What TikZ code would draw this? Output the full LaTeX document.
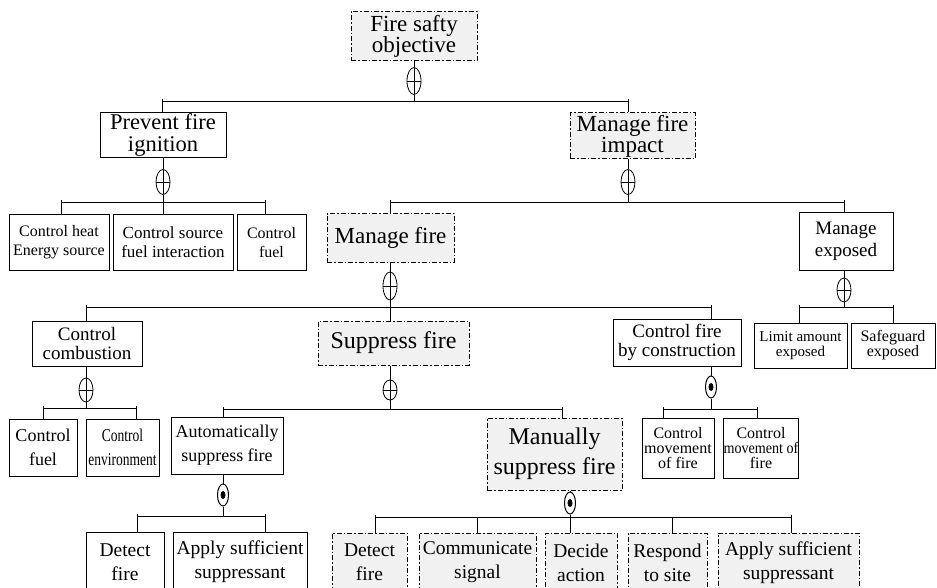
\documentclass[tikz,border=0pt]{standalone}
\usepackage{fontspec}
\setmainfont{Liberation Serif}
\usetikzlibrary{shapes.geometric}
\definecolor{boxgray}{HTML}{F1F1F1}
\newcommand\myfs[2]{\fontsize{#1}{#2}\selectfont}
\begin{document}
\begin{tikzpicture}[x=1pt,y=-1pt,
  every node/.style={inner sep=0pt, align=center},
  line/.style={line width=1pt},
  sbox/.style={draw, line width=1pt, fill=white},
  dbox/.style={draw, line width=1pt, fill=boxgray, dash pattern=on 5pt off 2pt on 1.5pt off 2pt},
  orsym/.style={ellipse, draw, line width=0.8pt, minimum width=14pt, minimum height=#1,
    path picture={\draw[line width=0.8pt] (path picture bounding box.north) -- (path picture bounding box.south)
      (path picture bounding box.west) -- (path picture bounding box.east);}},
  orsym/.default=25pt,
  xorsym/.style={ellipse, draw, line width=1pt, minimum width=11pt, minimum height=22pt,
    path picture={\fill (path picture bounding box.center) ellipse (2.5pt and 4pt);}}
]
\useasboundingbox (0,0) rectangle (937,588);
\clip (0,0) rectangle (937,588);
\fill[white] (0,0) rectangle (937,588);

% ---------------- level 0
\node[dbox, minimum width=126pt, minimum height=49pt, font=\myfs{23}{21}] (top) at (414,36.5) {Fire safty\\objective};
\node[orsym=27pt] (s0) at (414,81) {};
\node[sbox, minimum width=126pt, minimum height=45pt, font=\myfs{22.5}{22}] (prev) at (163,135.5) {Prevent fire\\ignition};
\node[dbox, minimum width=125pt, minimum height=46pt, font=\myfs{23}{21}] (mfi) at (632.5,136) {Manage fire\\impact};
\coordinate (b0L) at (162,102); \coordinate (b0R) at (628,102);
\draw[line] (top.south) -- (s0.north);
\draw[line] (s0.south) -- (s0.south |- b0L);
\draw[line] (b0L) -- (b0R);
\draw[line] ([yshift=2.5pt]b0L) -- (b0L |- prev.north);
\draw[line] ([yshift=2.5pt]b0R) -- (b0R |- mfi.north);

% ---------------- prevent fire ignition
\node[orsym] (s1) at (163,182) {};
\draw[line] (prev.south) -- (s1.north);
\coordinate (b1L) at (61,203); \coordinate (b1M) at (163,203); \coordinate (b1R) at (265,203);
\draw[line] (s1.south) -- (b1M);
\draw[line] (b1L) -- (b1R);
\node[sbox, minimum width=100pt, minimum height=55pt, font=\myfs{16}{19}] (c1) at (59,242.5) {Control heat\\Energy source};
\node[sbox, minimum width=120pt, minimum height=55pt, font=\myfs{17}{19}] (c2) at (173,242.5) {Control source\\fuel interaction};
\node[sbox, minimum width=69pt, minimum height=55pt, font=\myfs{16}{19}] (c3) at (271.5,242.5) {Control\\fuel};
\draw[line] ([yshift=2.5pt]b1L) -- (b1L |- c1.north);
\draw[line] (b1M) -- (b1M |- c2.north);
\draw[line] ([yshift=2.5pt]b1R) -- (b1R |- c3.north);

% ---------------- manage fire impact
\node[orsym] (s2) at (628,182) {};
\draw[line] (mfi.south -| s2.north) -- (s2.north);
\coordinate (b2L) at (390,203); \coordinate (b2R) at (844,203);
\draw[line] (s2.south) -- (s2.south |- b2L);
\draw[line] (b2L) -- (b2R);
\node[dbox, minimum width=127pt, minimum height=48pt, font=\myfs{23}{20}] (mf) at (390.5,238) {Manage fire};
\node[sbox, minimum width=94pt, minimum height=57pt, font=\myfs{19}{22}] (me) at (846,241.5) {Manage\\exposed};
\draw[line] ([yshift=2.5pt]b2L) -- (b2L |- mf.north);
\draw[line] ([yshift=2.5pt]b2R) -- (b2R |- me.north);

% ---------------- manage exposed
\node[orsym=24pt] (s4) at (844,290) {};
\draw[line] (me.south -| s4.north) -- (s4.north);
\coordinate (b4L) at (799,307); \coordinate (b4R) at (893,307);
\draw[line] (s4.south) -- (s4.south |- b4L);
\draw[line] (b4L) -- (b4R);
\node[sbox, minimum width=93pt, minimum height=45pt, font=\myfs{15}{15}] (la) at (800.5,345.5) {Limit amount\\exposed};
\node[sbox, minimum width=84pt, minimum height=45pt, font=\myfs{16}{15}] (se) at (893,345.5) {Safeguard\\exposed};
\draw[line] ([yshift=2.5pt]b4L) -- (b4L |- la.north);
\draw[line] ([yshift=2.5pt]b4R) -- (b4R |- se.north);

% ---------------- manage fire
\node[orsym=28pt] (s3) at (390,286) {};
\draw[line] (mf.south -| s3.north) -- (s3.north);
\coordinate (b3L) at (86,307); \coordinate (b3M) at (390,307); \coordinate (b3R) at (711,307);
\draw[line] (s3.south) -- (b3M);
\draw[line] (b3L) -- (b3R);
\node[sbox, minimum width=110pt, minimum height=45pt, font=\myfs{19}{19}] (cc) at (87,343.5) {Control\\combustion};
\node[dbox, minimum width=151pt, minimum height=44pt, font=\myfs{24}{20}] (sf) at (393.5,343) {Suppress fire};
\node[sbox, minimum width=128pt, minimum height=47pt, font=\myfs{19}{19}] (cfc) at (677,342.5) {Control fire\\by construction};
\draw[line] ([yshift=2.5pt]b3L) -- (b3L |- cc.north);
\draw[line] (b3M) -- (b3M |- sf.north);
\draw[line] ([yshift=2.5pt]b3R) -- (b3R |- cfc.north);

% ---------------- control combustion
\node[orsym=24pt] (s5) at (86,390) {};
\draw[line] (cc.south -| s5.north) -- (s5.north);
\coordinate (b5L) at (43,408); \coordinate (b5R) at (136,408);
\draw[line] (s5.south) -- (s5.south |- b5L);
\draw[line] (b5L) -- (b5R);
\node[sbox, minimum width=68pt, minimum height=57pt, font=\myfs{18}{24}] (cf) at (43,447.5) {Control\\fuel};
\node[sbox, minimum width=73pt, minimum height=57pt, font=\myfs{18}{24}] (ce) at (122.5,447.5) {\scalebox{0.75}[1]{Control}\\\scalebox{0.75}[1]{environment}};
\draw[line] ([yshift=2.5pt]b5L) -- (b5L |- cf.north);
\draw[line] ([yshift=2.5pt]b5R) -- (b5R |- ce.north);

% ---------------- suppress fire
\node[orsym=20pt] (s6) at (390,390) {};
\draw[line] (sf.south -| s6.north) -- (s6.north);
\coordinate (b6L) at (223,409); \coordinate (b6R) at (562,409);
\draw[line] (s6.south) -- (s6.south |- b6L);
\draw[line] (b6L) -- (b6R);
\node[sbox, minimum width=112pt, minimum height=57pt, font=\myfs{18}{24}] (as) at (227,445.5) {Automatically\\suppress fire};
\node[dbox, minimum width=135pt, minimum height=72pt, font=\myfs{24}{30}] (ms) at (554.5,454) {Manually\\suppress fire};
\draw[line] ([yshift=2.5pt]b6L) -- (b6L |- as.north);
\draw[line] ([yshift=2.5pt]b6R) -- (b6R |- ms.north);

% ---------------- control fire by construction
\node[xorsym] (x7) at (711,387) {};
\draw[line] (cfc.south -| x7.north) -- (x7.north);
\coordinate (b7L) at (663,409); \coordinate (b7R) at (757,409);
\draw[line] (x7.south) -- (x7.south |- b7L);
\draw[line] (b7L) -- (b7R);
\node[sbox, minimum width=72pt, minimum height=60pt, font=\myfs{16}{15}] (cm1) at (678,448) {Control\\movement\\of fire};
\node[sbox, minimum width=68pt, minimum height=60pt, font=\myfs{16}{15}] (cm2) at (761,448) {Control\\\scalebox{0.88}[1]{movement of}\\fire};
\draw[line] ([yshift=2.5pt]b7L) -- (b7L |- cm1.north);
\draw[line] ([yshift=2.5pt]b7R) -- (b7R |- cm2.north);

% ---------------- automatically suppress fire
\node[xorsym] (x8) at (223,495) {};
\draw[line] (as.south -| x8.north) -- (x8.north);
\coordinate (b8L) at (137,516); \coordinate (b8R) at (265,516);
\draw[line] (x8.south) -- (x8.south |- b8L);
\draw[line] (b8L) -- (b8R);
\node[sbox, minimum width=78pt, minimum height=60pt, font=\myfs{19.5}{24}] (df1) at (125,562) {Detect\\fire};
\node[sbox, minimum width=134pt, minimum height=60pt, font=\myfs{19.5}{24}] (ap1) at (240,562) {Apply sufficient\\suppressant};
\draw[line] ([yshift=2.5pt]b8L) -- (b8L |- df1.north);
\draw[line] ([yshift=2.5pt]b8R) -- (b8R |- ap1.north);

% ---------------- manually suppress fire
\node[xorsym] (x9) at (570,503) {};
\draw[line] (ms.south -| x9.north) -- (x9.north);
\coordinate (b9A) at (375,517); \coordinate (b9B) at (477,517); \coordinate (b9C) at (570,517);
\coordinate (b9D) at (672,517); \coordinate (b9E) at (791,517);
\draw[line] (x9.south) -- (b9C);
\draw[line] (b9A) -- (b9E);
\node[dbox, minimum width=75pt, minimum height=59pt, font=\myfs{19.5}{24}] (df2) at (369.5,562.5) {Detect\\fire};
\node[dbox, minimum width=117pt, minimum height=59pt, font=\myfs{19.5}{24}] (cs) at (477.5,562.5) {Communicate\\signal};
\node[dbox, minimum width=72pt, minimum height=59pt, font=\myfs{19.5}{24}] (da) at (581,562.5) {Decide\\action};
\node[dbox, minimum width=79pt, minimum height=59pt, font=\myfs{19.5}{24}] (rs) at (667.5,562.5) {Respond\\to site};
\node[dbox, minimum width=141pt, minimum height=59pt, font=\myfs{19.5}{24}] (ap2) at (788.5,562.5) {Apply sufficient\\suppressant};
\draw[line] ([yshift=2.5pt]b9A) -- (b9A |- df2.north);
\draw[line] (b9B) -- (b9B |- cs.north);
\draw[line] (b9C) -- (b9C |- da.north);
\draw[line] (b9D) -- (b9D |- rs.north);
\draw[line] ([yshift=2.5pt]b9E) -- (b9E |- ap2.north);
\end{tikzpicture}
\end{document}
